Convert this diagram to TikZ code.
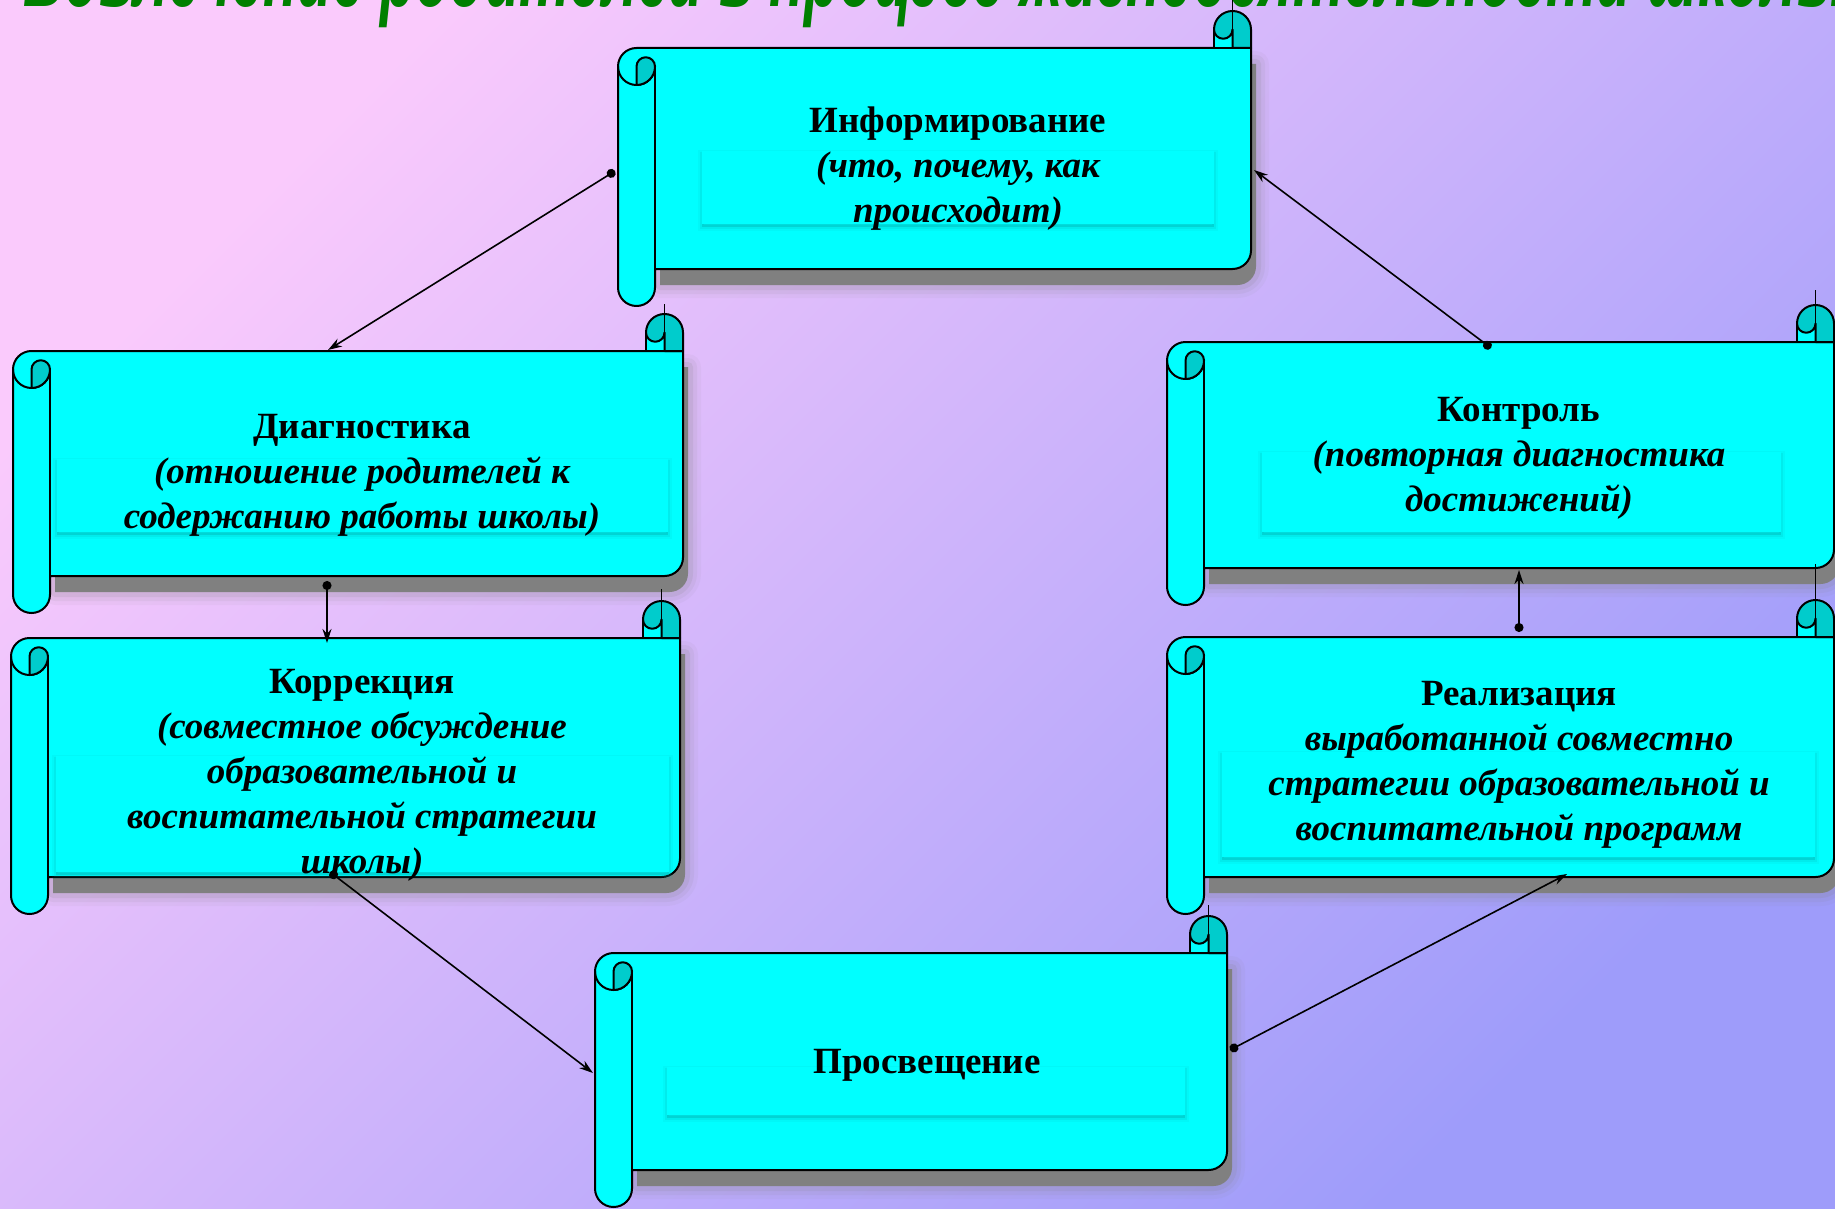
\documentclass[tikz,border=0pt]{standalone}
\usepackage{graphicx}
\usepackage{fontspec}
\setmainfont{Liberation Serif}
\newfontfamily\titlefont{Liberation Sans}
\usetikzlibrary{arrows.meta}
\definecolor{bgTL}{RGB}{250,202,252}
\definecolor{bgBR}{RGB}{158,156,250}
\definecolor{scrollcyan}{RGB}{0,255,255}
\definecolor{scrolldark}{RGB}{0,204,204}
\definecolor{shadowgrey}{RGB}{128,128,128}
\definecolor{innershadow}{RGB}{0,170,170}
\definecolor{titlegreen}{RGB}{0,128,0}

\tikzset{
  outline/.style={draw=black, line width=2pt, line join=round},
  conn/.style={draw=black, line width=1.6pt, {Circle[length=9pt]}-{Stealth[length=14pt,width=9pt]}},
  boxtext/.style={align=center, inner sep=0pt, anchor=north, font=\fontsize{37}{45}\selectfont\bfseries},
}

% #1 left, #2 top, #3 right, #4 bottom, #5 top of seam line (pixel units, y down)
\newcommand\scrollshape[5]{%
  \def\bodypath{(#1,#2+55.5) arc[start angle=180,end angle=270,radius=18.5] -- (#3,#2+37) -- (#3,#4-55.5) arc[start angle=0,end angle=90,radius=18.5] -- (#1+37,#4-37) -- (#1+37,#4-18.5) arc[start angle=0,end angle=180,radius=18.5] -- cycle}%
  \def\shadowpath{(#1+37,#2+37) -- (#3,#2+37) -- (#3,#4-55.5) arc[start angle=0,end angle=90,radius=18.5] -- (#1+37,#4-37) -- cycle}%
  \foreach \w/\op in {26/0.06,18/0.09,10/0.14}{\draw[shadowgrey,line width=\w pt,opacity=\op,line join=round,shift={(5,16)}] \shadowpath;}%
  \fill[shadowgrey,shift={(5,16)}] \shadowpath;%
  \filldraw[fill=scrollcyan,outline] \bodypath;%
  \draw[outline] (#1+37,#2+55.5) -- (#1+37,#4-37);%
  \draw[outline] (#1,#2+55.5) arc[start angle=180,end angle=0,radius=18.5];%
  \filldraw[fill=scrolldark,outline] (#1+18.5,#2+74) -- (#1+18.5,#2+55.5) arc[start angle=180,end angle=360,radius=9.25] arc[start angle=0,end angle=90,radius=18.5] -- cycle;%
  \filldraw[fill=scrollcyan,outline] (#3-37,#2+18.5) rectangle (#3-18.5,#2+37);%
  \filldraw[fill=scrolldark,outline] (#3-37,#2+18.5) arc[start angle=180,end angle=360,radius=18.5] -- (#3,#2+37) -- (#3-18.5,#2+37) -- (#3-18.5,#2+18.5) arc[start angle=0,end angle=180,radius=9.25] -- cycle;%
  \draw[black,line width=1.2pt] (#3-18.5,#5) -- (#3-18.5,#2+37);%
}

% inner text panel with soft shadow: x1 y1 x2 y2
\newcommand\textpanel[4]{%
  \foreach \w/\op in {8/0.08,4/0.14}{\draw[innershadow,line width=\w pt,opacity=\op,shift={(0,3)}] (#1,#2) rectangle (#3,#4);}%
  \fill[innershadow,opacity=0.35,shift={(0,3)}] (#1,#2) rectangle (#3,#4);%
  \fill[scrollcyan] (#1,#2) rectangle (#3,#4);%
}

\begin{document}
\begin{tikzpicture}[x=1pt,y=-1pt]
\useasboundingbox (0,0) rectangle (1835,1209);
\shade[top color=bgTL, bottom color=bgBR, shading angle=45] (0,0) rectangle (1835,1209);

\node[anchor=base west, inner sep=0pt, text=titlegreen, font=\titlefont\bfseries\itshape\fontsize{57}{60}\selectfont] (title) at (23,7) {\scalebox{1}[1.8]{Вовлечение родителей в процесс жизнедеятельности школы}};

% scrolls
\scrollshape{618}{11}{1251}{306}{-2}
\textpanel{702}{151}{1214}{224}
\scrollshape{13}{314}{683}{613}{304}
\textpanel{57}{459}{668}{532}
\scrollshape{11}{601}{680}{914}{589}
\textpanel{56}{756}{669}{872}
\scrollshape{1167}{305}{1834}{605}{290}
\textpanel{1262}{452}{1781}{532}
\scrollshape{1167}{600}{1834}{914}{564}
\textpanel{1222}{752}{1815}{857}
\scrollshape{595}{916}{1227}{1207}{905}
\textpanel{667}{1067}{1185}{1115}

% texts
\node[boxtext] (t-info) at (958,102) {\rule{0pt}{30pt}Информирование\\ \itshape (что, почему, как\\ \itshape происходит)};
\node[boxtext] (t-diag) at (362,408) {\rule{0pt}{30pt}Диагностика\\ \itshape (отношение родителей к\\ \itshape содержанию работы школы)};
\node[boxtext] (t-korr) at (362,663) {\rule{0pt}{30pt}Коррекция\\ \itshape (совместное обсуждение\\ \itshape образовательной и\\ \itshape воспитательной стратегии\\ \itshape школы)};
\node[boxtext] (t-kontr) at (1519,391) {\rule{0pt}{30pt}Контроль\\ \itshape (повторная диагностика\\ \itshape достижений)};
\node[boxtext] (t-real) at (1519,675) {\rule{0pt}{30pt}Реализация\\ \itshape выработанной совместно\\ \itshape стратегии образовательной и\\ \itshape воспитательной программ};
\node[boxtext] (t-prosv) at (927,1043) {\rule{0pt}{30pt}Просвещение};

% connection points
\coordinate (info-w) at (615,171);
\coordinate (info-e) at (1254,170);
\coordinate (diag-n) at (328,350);
\coordinate (diag-s) at (327,581);
\coordinate (korr-n) at (327,643);
\coordinate (korr-s) at (330,872);
\coordinate (prosv-w) at (593,1073);
\coordinate (prosv-e) at (1230,1050);
\coordinate (real-s) at (1567,874);
\coordinate (real-n) at (1519,632);
\coordinate (kontr-s) at (1519,570);
\coordinate (kontr-n) at (1491,348);

\draw[conn] (info-w) -- (diag-n);
\draw[conn] (diag-s) -- (korr-n);
\draw[conn] (korr-s) -- (prosv-w);
\draw[conn] (prosv-e) -- (real-s);
\draw[conn] (real-n) -- (kontr-s);
\draw[conn] (kontr-n) -- (info-e);
\end{tikzpicture}
\end{document}
